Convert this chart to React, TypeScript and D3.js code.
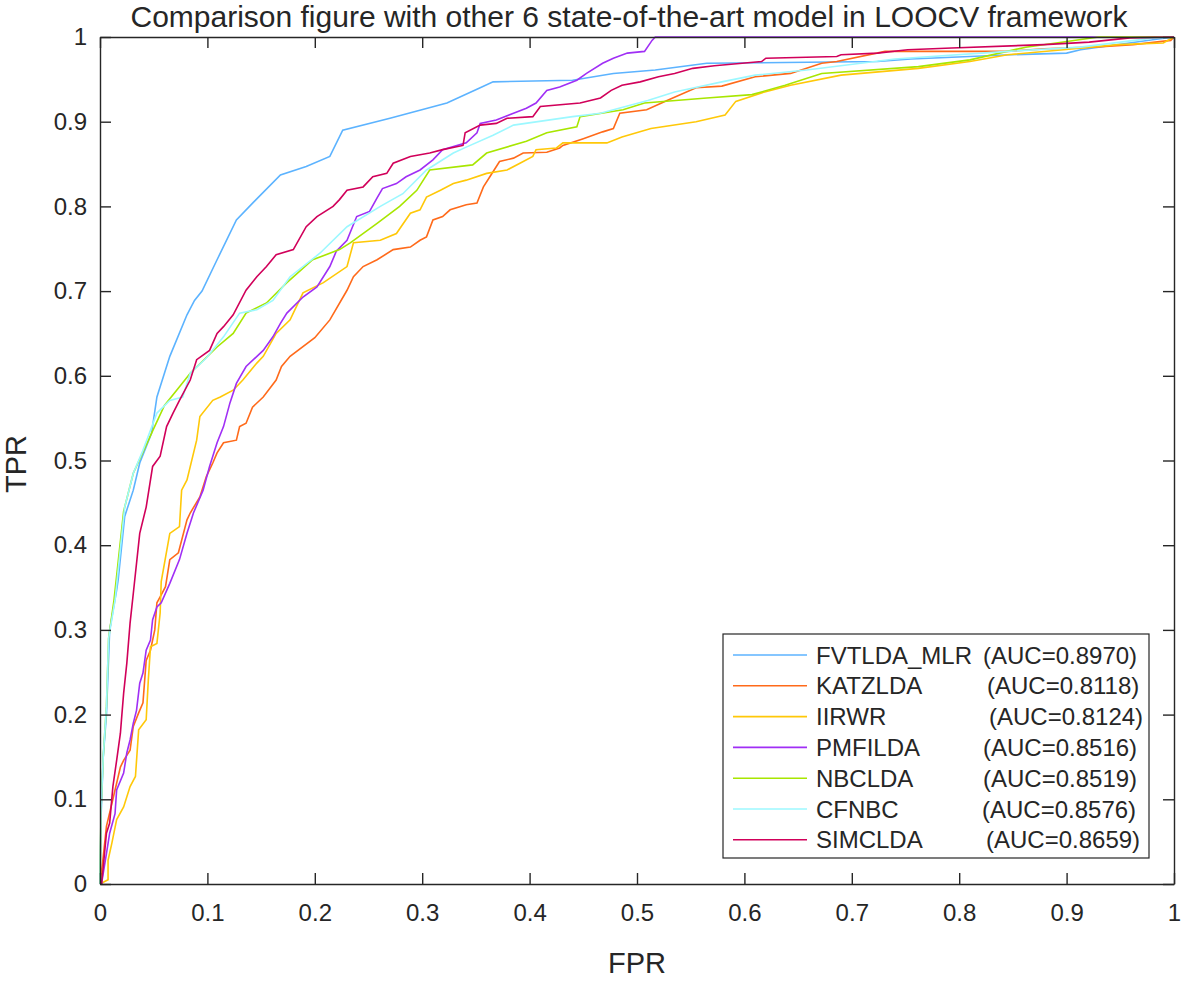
import React, { useEffect, useRef } from 'react';
import * as d3 from 'd3';

// ROC curves (FPR / TPR pairs)
const fvtldaFpr = [0, 0.001, 0.003, 0.006, 0.009, 0.0155, 0.017, 0.023, 0.031, 0.037, 0.048, 0.053, 0.065, 0.081, 0.088, 0.095, 0.109, 0.127, 0.143, 0.168, 0.192, 0.214, 0.226, 0.27, 0.323, 0.354, 0.366, 0.44, 0.478, 0.517, 0.565, 0.724, 0.755, 0.848, 0.9, 0.913, 0.982, 1];
const fvtldaTpr = [0, 0.08, 0.15, 0.2, 0.3, 0.347, 0.36, 0.434, 0.465, 0.497, 0.532, 0.575, 0.623, 0.672, 0.689, 0.7, 0.737, 0.784, 0.805, 0.837, 0.847, 0.859, 0.89, 0.904, 0.922, 0.94, 0.947, 0.949, 0.957, 0.961, 0.969, 0.971, 0.974, 0.979, 0.981, 0.985, 0.997, 1];

const katzFpr = [0, 0.003, 0.006, 0.012, 0.019, 0.022, 0.028, 0.031, 0.036, 0.04, 0.043, 0.047, 0.051, 0.053, 0.056, 0.061, 0.065, 0.073, 0.081, 0.084, 0.093, 0.099, 0.105, 0.109, 0.115, 0.127, 0.13, 0.136, 0.142, 0.152, 0.164, 0.169, 0.177, 0.2, 0.214, 0.23, 0.236, 0.245, 0.258, 0.273, 0.289, 0.298, 0.304, 0.31, 0.319, 0.326, 0.341, 0.351, 0.357, 0.363, 0.372, 0.385, 0.394, 0.416, 0.428, 0.431, 0.45, 0.468, 0.478, 0.484, 0.509, 0.528, 0.555, 0.579, 0.61, 0.643, 0.672, 0.686, 0.731, 0.845, 0.879, 0.925, 0.962, 0.997, 1];
const katzTpr = [0, 0.032, 0.068, 0.1, 0.138, 0.146, 0.158, 0.186, 0.202, 0.214, 0.264, 0.276, 0.3, 0.332, 0.339, 0.351, 0.383, 0.391, 0.43, 0.438, 0.457, 0.481, 0.497, 0.509, 0.521, 0.524, 0.54, 0.544, 0.563, 0.575, 0.595, 0.611, 0.623, 0.645, 0.666, 0.701, 0.717, 0.729, 0.737, 0.749, 0.752, 0.76, 0.764, 0.784, 0.788, 0.796, 0.802, 0.804, 0.823, 0.835, 0.853, 0.857, 0.863, 0.864, 0.869, 0.872, 0.88, 0.888, 0.892, 0.91, 0.914, 0.925, 0.94, 0.942, 0.953, 0.957, 0.969, 0.971, 0.983, 0.983, 0.986, 0.988, 0.991, 0.996, 1];

const iirwrFpr = [0, 0.0075, 0.0075, 0.011, 0.0155, 0.022, 0.028, 0.033, 0.036, 0.043, 0.045, 0.047, 0.053, 0.056, 0.057, 0.065, 0.074, 0.076, 0.081, 0.09, 0.093, 0.105, 0.112, 0.124, 0.133, 0.146, 0.152, 0.164, 0.177, 0.189, 0.208, 0.23, 0.236, 0.261, 0.276, 0.289, 0.298, 0.304, 0.317, 0.329, 0.341, 0.36, 0.379, 0.391, 0.403, 0.406, 0.425, 0.431, 0.472, 0.486, 0.513, 0.555, 0.582, 0.592, 0.616, 0.643, 0.69, 0.762, 0.81, 0.845, 0.897, 0.948, 0.99, 1];
const iirwrTpr = [0, 0.005, 0.028, 0.048, 0.076, 0.091, 0.115, 0.127, 0.182, 0.194, 0.241, 0.28, 0.284, 0.32, 0.357, 0.414, 0.422, 0.465, 0.477, 0.524, 0.552, 0.571, 0.575, 0.583, 0.595, 0.615, 0.623, 0.65, 0.666, 0.698, 0.71, 0.729, 0.757, 0.76, 0.768, 0.792, 0.796, 0.811, 0.819, 0.827, 0.831, 0.839, 0.843, 0.851, 0.859, 0.867, 0.869, 0.875, 0.875, 0.882, 0.892, 0.9, 0.908, 0.924, 0.934, 0.943, 0.955, 0.963, 0.971, 0.979, 0.985, 0.991, 0.993, 1];

const pmfFpr = [0, 0.0015, 0.006, 0.009, 0.014, 0.0155, 0.022, 0.025, 0.028, 0.031, 0.034, 0.037, 0.04, 0.043, 0.047, 0.049, 0.053, 0.057, 0.065, 0.074, 0.081, 0.087, 0.096, 0.102, 0.109, 0.115, 0.121, 0.127, 0.136, 0.152, 0.161, 0.168, 0.174, 0.189, 0.202, 0.214, 0.22, 0.23, 0.239, 0.251, 0.258, 0.263, 0.276, 0.285, 0.298, 0.31, 0.319, 0.341, 0.351, 0.354, 0.369, 0.385, 0.397, 0.406, 0.416, 0.428, 0.444, 0.453, 0.468, 0.478, 0.491, 0.507, 0.514, 0.517, 1];
const pmfTpr = [0, 0.001, 0.036, 0.06, 0.083, 0.111, 0.131, 0.155, 0.17, 0.19, 0.205, 0.237, 0.249, 0.276, 0.288, 0.312, 0.327, 0.332, 0.355, 0.383, 0.414, 0.438, 0.465, 0.493, 0.521, 0.54, 0.568, 0.591, 0.611, 0.63, 0.646, 0.662, 0.674, 0.693, 0.705, 0.729, 0.747, 0.76, 0.788, 0.794, 0.81, 0.821, 0.827, 0.835, 0.843, 0.855, 0.867, 0.875, 0.887, 0.898, 0.902, 0.91, 0.916, 0.922, 0.937, 0.941, 0.949, 0.957, 0.969, 0.975, 0.981, 0.983, 0.996, 1, 1];

const nbcFpr = [0, 0.001, 0.003, 0.006, 0.008, 0.013, 0.022, 0.031, 0.049, 0.06, 0.074, 0.084, 0.109, 0.124, 0.136, 0.155, 0.174, 0.198, 0.223, 0.233, 0.258, 0.279, 0.295, 0.307, 0.347, 0.36, 0.397, 0.416, 0.444, 0.447, 0.487, 0.507, 0.565, 0.607, 0.638, 0.672, 0.762, 0.81, 0.862, 0.93, 1];
const nbcTpr = [0, 0.09, 0.15, 0.21, 0.29, 0.335, 0.44, 0.485, 0.535, 0.565, 0.587, 0.603, 0.634, 0.65, 0.674, 0.686, 0.71, 0.737, 0.749, 0.757, 0.78, 0.8, 0.819, 0.843, 0.849, 0.863, 0.877, 0.887, 0.894, 0.906, 0.914, 0.922, 0.928, 0.932, 0.943, 0.957, 0.965, 0.973, 0.988, 1, 1];

const cfnbcFpr = [0, 0.001, 0.003, 0.006, 0.008, 0.014, 0.023, 0.031, 0.04, 0.053, 0.065, 0.077, 0.084, 0.099, 0.115, 0.13, 0.146, 0.161, 0.177, 0.205, 0.23, 0.261, 0.282, 0.304, 0.329, 0.341, 0.366, 0.385, 0.44, 0.466, 0.51, 0.535, 0.579, 0.61, 0.658, 0.74, 0.845, 0.913, 0.982, 1];
const cfnbcTpr = [0, 0.09, 0.15, 0.21, 0.29, 0.335, 0.445, 0.485, 0.512, 0.556, 0.571, 0.575, 0.603, 0.621, 0.646, 0.674, 0.678, 0.689, 0.717, 0.745, 0.776, 0.8, 0.815, 0.843, 0.863, 0.87, 0.884, 0.896, 0.906, 0.91, 0.925, 0.935, 0.947, 0.955, 0.961, 0.974, 0.983, 0.988, 0.999, 1];

const simFpr = [0, 0.0015, 0.006, 0.009, 0.012, 0.0155, 0.019, 0.02, 0.022, 0.025, 0.028, 0.031, 0.037, 0.043, 0.049, 0.056, 0.062, 0.068, 0.074, 0.084, 0.09, 0.102, 0.109, 0.115, 0.124, 0.136, 0.146, 0.155, 0.164, 0.18, 0.192, 0.202, 0.217, 0.223, 0.23, 0.245, 0.254, 0.267, 0.273, 0.289, 0.307, 0.319, 0.338, 0.34, 0.354, 0.369, 0.379, 0.403, 0.41, 0.447, 0.466, 0.476, 0.486, 0.503, 0.52, 0.535, 0.552, 0.572, 0.616, 0.62, 0.686, 0.69, 0.724, 0.752, 0.793, 0.879, 0.921, 0.959, 1];
const simTpr = [0, 0, 0.06, 0.072, 0.115, 0.146, 0.178, 0.194, 0.225, 0.261, 0.308, 0.343, 0.414, 0.445, 0.493, 0.505, 0.54, 0.556, 0.571, 0.595, 0.619, 0.63, 0.65, 0.658, 0.672, 0.701, 0.717, 0.729, 0.743, 0.749, 0.776, 0.788, 0.8, 0.808, 0.819, 0.823, 0.835, 0.839, 0.851, 0.859, 0.863, 0.867, 0.872, 0.887, 0.896, 0.898, 0.904, 0.906, 0.918, 0.922, 0.928, 0.937, 0.943, 0.947, 0.953, 0.957, 0.963, 0.966, 0.971, 0.975, 0.977, 0.979, 0.981, 0.985, 0.987, 0.991, 0.994, 0.999, 1];

const modelNames = ['FVTLDA_MLR', 'KATZLDA', 'IIRWR', 'PMFILDA', 'NBCLDA', 'CFNBC', 'SIMCLDA'];
const aucLabels = ['(AUC=0.8970)', '(AUC=0.8118)', '(AUC=0.8124)', '(AUC=0.8516)', '(AUC=0.8519)', '(AUC=0.8576)', '(AUC=0.8659)'];
const colors = ['#5cb3ff', '#ff6a1a', '#ffc808', '#a02ff5', '#a8e600', '#9cf8ff', '#d1005a'];
const fprs = [fvtldaFpr, katzFpr, iirwrFpr, pmfFpr, nbcFpr, cfnbcFpr, simFpr];
const tprs = [fvtldaTpr, katzTpr, iirwrTpr, pmfTpr, nbcTpr, cfnbcTpr, simTpr];
const ticks = [0, 0.1, 0.2, 0.3, 0.4, 0.5, 0.6, 0.7, 0.8, 0.9, 1];
// where the "(AUC=...)" column starts in each legend row (the original pads with spaces)
const aucOffsets = [167, 171, 173, 167, 167, 166, 170];

function App() {
  const ref = useRef(null);

  useEffect(() => {
    const svg = d3.select(ref.current);
    svg.selectAll('*').remove();

    const W = 1181, H = 982;
    const margin = { top: 37, right: 7, bottom: 98, left: 100 };
    const axisColor = '#262626';
    const font = '"Liberation Sans", Arial, Helvetica, sans-serif';

    const x = d3.scaleLinear().domain([0, 1]).range([margin.left, W - margin.right]);
    const y = d3.scaleLinear().domain([0, 1]).range([H - margin.bottom, margin.top]);
    const fmt = d => (d === 0 || d === 1 ? String(d) : d3.format('.1f')(d));

    svg.append('rect').attr('width', W).attr('height', H).attr('fill', '#fff');

    // curves, plotted in legend order so SIMCLDA ends on top
    const line = d3.line().x(d => x(d[0])).y(d => y(d[1]));
    const g = svg.append('g');
    modelNames.forEach((name, i) => {
      g.append('path')
        .datum(fprs[i].map((f, j) => [f, tprs[i][j]]))
        .attr('d', line)
        .attr('fill', 'none')
        .attr('stroke', colors[i])
        .attr('stroke-width', 1.6)
        .attr('stroke-linejoin', 'miter');
    });

    // box axes, ticks pointing inwards
    const styleAxis = sel => {
      sel.selectAll('path').attr('stroke', axisColor).attr('stroke-width', 1.4);
      sel.selectAll('line').attr('stroke', axisColor).attr('stroke-width', 1.4);
      sel.selectAll('text').attr('fill', axisColor).style('font-family', font).style('font-size', '24px');
    };

    svg.append('g')
      .attr('transform', `translate(0,${y(0)})`)
      .call(d3.axisBottom(x).tickValues(ticks).tickFormat(fmt).tickSizeInner(-11).tickSizeOuter(0).tickPadding(20))
      .call(styleAxis);
    svg.append('g')
      .attr('transform', `translate(${x(0)},0)`)
      .call(d3.axisLeft(y).tickValues(ticks).tickFormat(fmt).tickSizeInner(-11).tickSizeOuter(0).tickPadding(13))
      .call(styleAxis);
    svg.append('g')
      .attr('transform', `translate(0,${y(1)})`)
      .call(d3.axisTop(x).tickValues(ticks).tickFormat(() => '').tickSizeInner(-11).tickSizeOuter(0))
      .call(styleAxis);
    svg.append('g')
      .attr('transform', `translate(${x(1)},0)`)
      .call(d3.axisRight(y).tickValues(ticks).tickFormat(() => '').tickSizeInner(-11).tickSizeOuter(0))
      .call(styleAxis);

    // title and axis labels
    svg.append('text')
      .attr('x', 629).attr('y', 27)
      .attr('text-anchor', 'middle')
      .attr('fill', axisColor)
      .style('font-family', font).style('font-size', '30px')
      .text('Comparison figure with other 6 state-of-the-art model in LOOCV framework');
    svg.append('text')
      .attr('x', (x(0) + x(1)) / 2).attr('y', 973)
      .attr('text-anchor', 'middle')
      .attr('fill', axisColor)
      .style('font-family', font).style('font-size', '29px')
      .text('FPR');
    svg.append('text')
      .attr('transform', `translate(26,464) rotate(-90)`)
      .attr('text-anchor', 'middle')
      .attr('fill', axisColor)
      .style('font-family', font).style('font-size', '29px')
      .text('TPR');

    // legend
    const lg = svg.append('g').attr('transform', 'translate(723,634)');
    lg.append('rect')
      .attr('width', 426).attr('height', 224)
      .attr('fill', '#fff').attr('stroke', axisColor).attr('stroke-width', 1.2);
    modelNames.forEach((name, i) => {
      const ry = 21 + i * 30.8;
      lg.append('line')
        .attr('x1', 10).attr('x2', 84).attr('y1', ry).attr('y2', ry)
        .attr('stroke', colors[i]).attr('stroke-width', 1.6);
      lg.append('text')
        .attr('x', 93).attr('y', ry).attr('dy', '0.36em')
        .attr('fill', axisColor)
        .style('font-family', font).style('font-size', '24px')
        .text(name);
      lg.append('text')
        .attr('x', 93 + aucOffsets[i]).attr('y', ry).attr('dy', '0.36em')
        .attr('fill', axisColor)
        .style('font-family', font).style('font-size', '24px')
        .text(aucLabels[i]);
    });
  }, []);

  return (
    <svg ref={ref} width={1181} height={982}
      style={{ position: 'absolute', left: 0, top: 0, display: 'block' }} />
  );
}

export default App;
